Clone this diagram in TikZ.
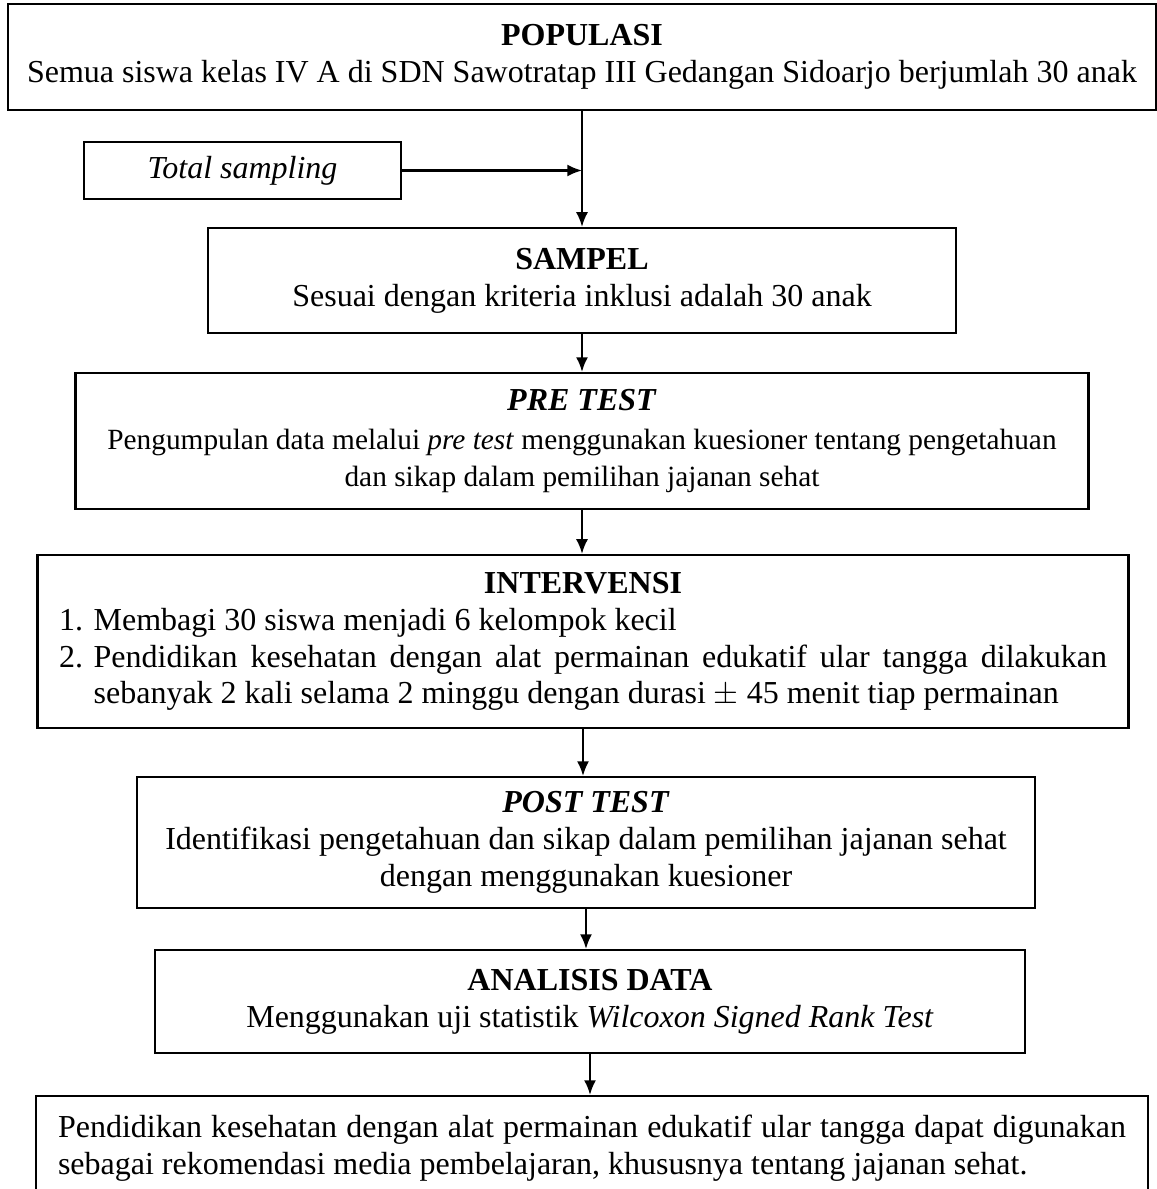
\documentclass[tikz,border=0pt]{standalone}
\usepackage{fontspec}
\setmainfont{Liberation Serif}
\usetikzlibrary{positioning,arrows.meta}

\begin{document}
\begin{tikzpicture}[x=0.375pt, y=-0.375pt, >={Latex[length=5.5pt,width=4.5pt]},
	box/.style={draw, line width=0.8pt, inner sep=0pt, align=center, font=\fontsize{12}{13.8}\selectfont},
	flow/.style={->, line width=0.8pt}]
	\useasboundingbox (0,0) rectangle (1157,1189);
	\clip (0,0) rectangle (1157,1189);
	
	\node[box, minimum width=430.5pt, minimum height=39.75pt] (popul) at (582,57) {\textbf{POPULASI}\\Semua siswa kelas IV A di SDN Sawotratap III Gedangan Sidoarjo berjumlah 30 anak};
	\node[box, minimum width=118.9pt, minimum height=21.4pt] (total) at (242.5,170.5) {\textit{Total sampling}};
	\node[box, minimum width=280.5pt, minimum height=39.4pt] (sampel) at (582,280.5) {\textbf{SAMPEL}\\Sesuai dengan kriteria inklusi adalah 30 anak};
	\node[box, minimum width=379.9pt, minimum height=51pt] (pre) at (582,441) {\textbf{\textit{PRE TEST}}\\[1pt]{\fontsize{11}{12.65}\selectfont Pengumpulan data melalui \textit{pre test} menggunakan kuesioner tentang pengetahuan}\\{\fontsize{11}{12.65}\selectfont dan sikap dalam pemilihan jajanan sehat}};
	\node[box, minimum width=409.1pt, minimum height=64.9pt, text width=393pt, align=justify] (interv) at (583,641.5) {%
		{\centering\textbf{INTERVENSI}\par}
		\noindent\hangindent=13pt\hangafter=1\makebox[13pt][l]{1.}Membagi 30 siswa menjadi 6 kelompok kecil\par
		\noindent\hangindent=13pt\hangafter=1\makebox[13pt][l]{2.}Pendidikan kesehatan dengan alat permainan edukatif ular tangga dilakukan\linebreak sebanyak 2 kali selama 2 minggu dengan durasi $\pm$ 45 menit tiap permainan\par};
	\node[box, minimum width=336.75pt, minimum height=49.1pt] (post) at (586,842.5) {\textbf{\textit{POST TEST}}\\Identifikasi pengetahuan dan sikap dalam pemilihan jajanan sehat\\dengan menggunakan kuesioner};
	\node[box, minimum width=326.25pt, minimum height=38.6pt] (anal) at (590,1001.5) {\textbf{ANALISIS DATA}\\Menggunakan uji statistik \textit{Wilcoxon Signed Rank Test}};
	\node[box, minimum width=417pt, minimum height=39pt, text width=400.5pt, align=justify] (hasil) at (592,1148) {%
		\noindent Pendidikan kesehatan dengan alat permainan edukatif ular tangga dapat digunakan\linebreak sebagai rekomendasi media pembelajaran, khususnya tentang jajanan sehat.\par};
	
	\draw[flow] (popul.south) -- (popul.south |- sampel.north);
	\draw[flow] (total.east) -- (total.east -| popul.south);
	\draw[flow] (sampel.south) -- (sampel.south |- pre.north);
	\draw[flow] (pre.south) -- (pre.south |- interv.north);
	\draw[flow] (interv.south) -- (interv.south |- post.north);
	\draw[flow] (post.south) -- (post.south |- anal.north);
	\draw[flow] (anal.south) -- (anal.south |- hasil.north);
\end{tikzpicture}
\end{document}
